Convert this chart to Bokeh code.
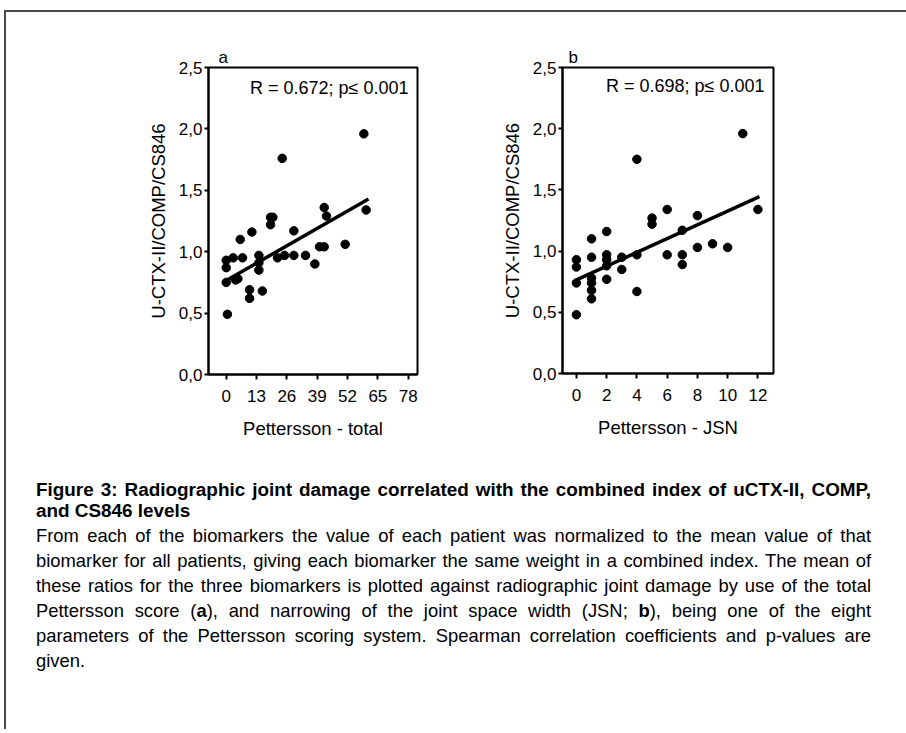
from bokeh.plotting import figure
from bokeh.models import (Range1d, FixedTicker, CustomJSTickFormatter, Label, Div, Title, Spacer)
from bokeh.layouts import column, row
from bokeh.embed import file_html
from bokeh.resources import INLINE

FONT = "Liberation Sans"

# Panel a: total Pettersson score vs combined biomarker index
pettersson_total = [24, 0, 0, 0, 0.5, 3, 7, 6, 4, 5, 11, 10, 10, 14, 14, 14, 15.5,
                    19, 20, 19, 22, 25, 29, 29, 34, 38, 40, 42, 42, 43, 51, 60, 59]
index_a = [1.76, 0.93, 0.87, 0.75, 0.49, 0.95, 0.95, 1.10, 0.77, 0.78, 1.16, 0.69, 0.62,
           0.97, 0.91, 0.85, 0.68, 1.28, 1.28, 1.22, 0.95, 0.97, 1.17, 0.97, 0.97, 0.90,
           1.04, 1.04, 1.36, 1.29, 1.06, 1.34, 1.96]
fit_a_x = [0, 61]
fit_a_y = [0.765, 1.43]
ticks_a = [0, 13, 26, 39, 52, 65, 78]
xrange_a = (-7.6, 82.0)
stat_a = "R = 0.672; p\u2264 0.001"

# Panel b: JSN sub-score vs combined biomarker index
pettersson_jsn = [0, 0, 0, 0, 1, 1, 1, 1, 1, 1, 2, 2, 2, 2, 2, 3, 3, 4, 4, 4,
                  5, 5, 6, 6, 7, 7, 7, 8, 8, 9, 10, 11, 12]
index_b = [0.93, 0.87, 0.74, 0.48, 1.10, 0.95, 0.78, 0.74, 0.68, 0.61, 1.16, 0.97, 0.93,
           0.88, 0.77, 0.95, 0.85, 1.75, 0.97, 0.67, 1.27, 1.22, 1.34, 0.97, 1.17, 0.97,
           0.89, 1.29, 1.03, 1.06, 1.03, 1.96, 1.34]
fit_b_x = [0, 12.1]
fit_b_y = [0.765, 1.445]
ticks_b = [0, 2, 4, 6, 8, 10, 12]
xrange_b = (-0.92, 13.03)
stat_b = "R = 0.698; p\u2264 0.001"

y_ticks = [0, 0.5, 1.0, 1.5, 2.0, 2.5]
y_title = "U-CTX-II/COMP/CS846"

heading_lines = [
    "Figure 3: Radiographic joint damage correlated with the combined index of uCTX-II, COMP,",
    "and CS846 levels",
]
body_lines = [
    "From each of the biomarkers the value of each patient was normalized to the mean value of that",
    "biomarker for all patients, giving each biomarker the same weight in a combined index. The mean of",
    "these ratios for the three biomarkers is plotted against radiographic joint damage by use of the total",
    "Pettersson score (<b>a</b>), and narrowing of the joint space width (JSN; <b>b</b>), being one of the eight",
    "parameters of the Pettersson scoring system. Spearman correlation coefficients and p-values are",
    "given.",
]


def panel(xs, ys, fx, fy, xticks, xr, xlabel, letter, stat, frame_w, frame_h,
          b_left, b_top, b_right, b_bottom, letter_dx, stat_dy):
    p = figure(frame_width=frame_w, frame_height=frame_h,
               min_border_left=b_left, min_border_top=b_top,
               min_border_right=b_right, min_border_bottom=b_bottom,
               x_range=Range1d(*xr), y_range=Range1d(0, 2.5),
               toolbar_location=None, output_backend="svg")
    p.title = Title(text=letter, align="left", offset=letter_dx, standoff=1,
                    text_font=FONT, text_font_size="17px", text_font_style="normal",
                    text_color="black")
    p.grid.visible = False
    p.background_fill_color = None
    p.border_fill_color = None
    p.outline_line_color = "black"
    p.outline_line_width = 2
    p.outline_line_alpha = 1

    for ax in (p.xaxis[0], p.yaxis[0]):
        ax.axis_line_color = "black"
        ax.axis_line_width = 2
        ax.major_tick_line_color = "black"
        ax.major_tick_line_width = 2
        ax.major_tick_in = 0
        ax.major_tick_out = 5
        ax.minor_tick_line_color = None
        ax.major_label_text_font = FONT
        ax.major_label_text_font_size = "17px"
        ax.major_label_text_color = "black"
        ax.axis_label_text_font = FONT
        ax.axis_label_text_font_size = "18.5px"
        ax.axis_label_text_font_style = "normal"
        ax.axis_label_text_color = "black"

    p.xaxis.ticker = FixedTicker(ticks=xticks)
    p.xaxis.major_label_standoff = 10
    p.xaxis.axis_label = xlabel
    p.xaxis.axis_label_standoff = 13

    p.yaxis.ticker = FixedTicker(ticks=y_ticks)
    p.yaxis.formatter = CustomJSTickFormatter(code="return tick.toFixed(1).replace('.', ',');")
    p.yaxis.major_tick_out = 4
    p.yaxis.major_label_standoff = 2
    p.yaxis.axis_label = y_title
    p.yaxis.axis_label_standoff = 7

    p.line(fx, fy, line_color="black", line_width=3.5)
    p.scatter(xs, ys, size=8.5, marker="circle", fill_color="black", line_color="black")

    p.add_layout(Label(x=xr[1], y=2.5, x_offset=-9, y_offset=stat_dy, text=stat,
                       text_font=FONT, text_font_size="18px", text_color="black",
                       text_baseline="middle", text_align="right"))
    return p


fig_a = panel(pettersson_total, index_a, fit_a_x, fit_a_y, ticks_a, xrange_a,
              "Pettersson - total", "a", stat_a, 209, 307, 202, 53, 23, 88, 10, -20)
fig_b = panel(pettersson_jsn, index_b, fit_b_x, fit_b_y, ticks_b, xrange_b,
              "Pettersson - JSN", "b", stat_b, 211, 306, 122, 55, 133, 87, 6, -18)


def caption_line(text, size, lh, bold, last, top):
    # each caption line is its own block, stretched edge to edge unless it ends a paragraph
    weight = "bold" if bold else "normal"
    align_last = "left" if last else "justify"
    html = (f'<div style="width:835px;font-family:\'{FONT}\';font-size:{size};'
            f'line-height:{lh}px;font-weight:{weight};color:black;'
            f'text-align:justify;text-align-last:{align_last};white-space:nowrap;">'
            f'{text}</div>')
    return Div(text=html, width=835, height=lh, margin=(top, 0, 0, 30))


caption = []
for i, t in enumerate(heading_lines):
    caption.append(caption_line(t, "18.9px", 21, True, i == len(heading_lines) - 1,
                                19 if i == 0 else 0))
for i, t in enumerate(body_lines):
    caption.append(caption_line(t, "18.4px", 25, False, i == len(body_lines) - 1,
                                2 if i == 0 else 0))

root = column(row(fig_a, fig_b, margin=0), *caption, Spacer(height=56, width=10),
              margin=(10, 0, 0, 4),
              styles={"border-top": "2px solid #4a4a4a", "border-left": "2px solid #4a4a4a",
                      "background": "white"})

open("out.html", "w").write(file_html(root, INLINE))
